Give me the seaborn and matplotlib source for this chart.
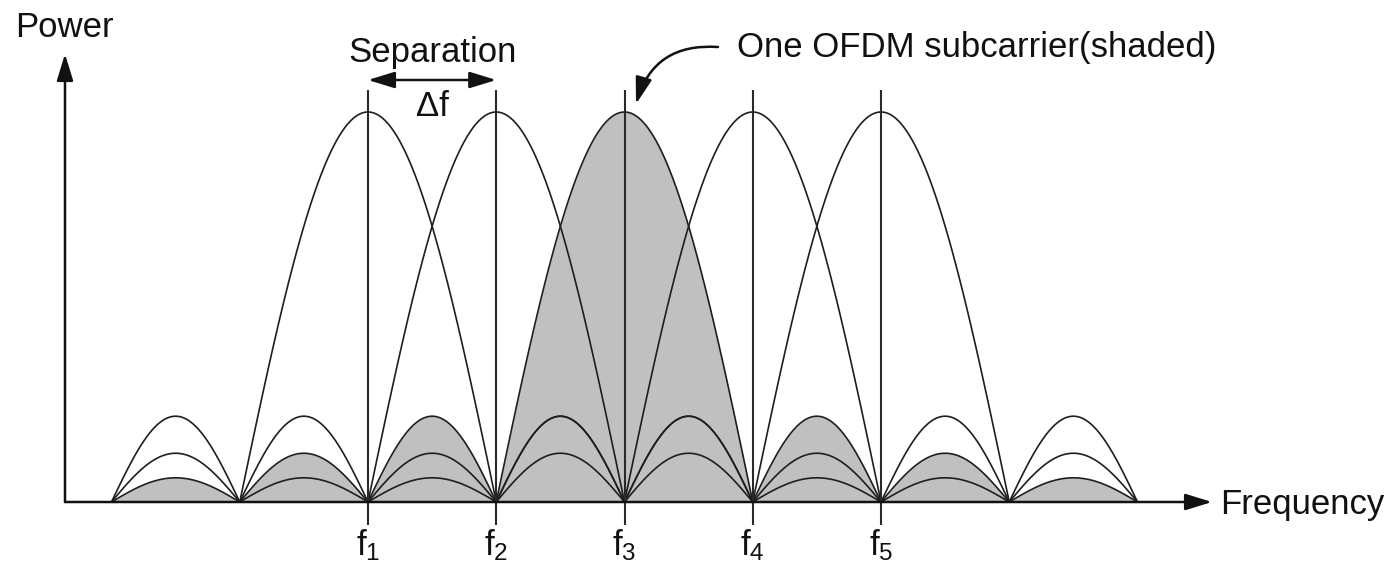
import numpy as np
import pandas as pd
import matplotlib
matplotlib.use("Agg")
import matplotlib.pyplot as plt
import seaborn as sns

# subcarrier centres, in units of the spacing delta f
carriers = ["1", "2", "3", "4", "5"]
centres = [1, 2, 3, 4, 5]
main_peak = 1.0
sidelobe_heights = [0.22, 0.125, 0.062]   # 1st, 2nd, 3rd sidelobe
band = (-1, 7)                            # outermost zeros of the spectrum
shaded = "3"

sns.set_theme(style="white")
plt.rcParams["font.family"] = ["Liberation Sans", "DejaVu Sans"]
plt.rcParams["mathtext.fontset"] = "custom"
plt.rcParams["mathtext.rm"] = "Liberation Sans"
plt.rcParams["mathtext.it"] = "Liberation Sans"

# pixel -> data helpers (axes fill the whole figure)
DF_PX, X0 = 128.25, 368 / 128.25 - 1
Y_PX, BASE = 390.0, 502


def px(x):
    return x / DF_PX - X0


def py(y):
    return (BASE - y) / Y_PX


# build every lobe of every subcarrier
rows = []
for name, c in zip(carriers, centres):
    x = np.linspace(c - 1, c + 1, 121)
    rows.append(pd.DataFrame({"x": x, "y": main_peak * np.cos(np.pi * (x - c) / 2),
                              "carrier": name, "lobe": f"{name}-main"}))
    for m, h in enumerate(sidelobe_heights, start=1):
        for side in (-1, 1):
            lo = min(c + side * m, c + side * (m + 1))
            if lo < band[0] or lo + 1 > band[1]:
                continue
            t = np.linspace(0, 1, 61)
            rows.append(pd.DataFrame({"x": lo + t, "y": h * np.sin(np.pi * t),
                                      "carrier": name, "lobe": f"{name}-{side * m}"}))
lobes = pd.concat(rows, ignore_index=True)

fig = plt.figure(figsize=(13.93, 5.76), dpi=100)
ax = fig.add_axes([0, 0, 1, 1])
ax.set_xlim(px(0), px(1393))
ax.set_ylim(py(576), py(0))
ax.axis("off")

# shaded subcarrier
sh = lobes[lobes.carrier == shaded].sort_values("x")
ax.fill_between(sh.x, 0, sh.y, color="#c0c0c0", lw=0, zorder=1)

sns.lineplot(data=lobes, x="x", y="y", units="lobe", estimator=None, sort=False,
             color="#1e1e1e", lw=1.2, ax=ax, zorder=3, legend=False)

ax.vlines(centres, py(525), py(90), color="#2a2a2a", lw=1.5, zorder=4)

arrow = dict(arrowstyle="-|>,head_length=0.65,head_width=0.2", color="#111",
             lw=1.8, mutation_scale=25, shrinkA=0, shrinkB=0)
# axes
ax.annotate("", xy=(px(1212), 0), xytext=(px(65), 0), arrowprops=arrow, zorder=5)
ax.annotate("", xy=(px(65), py(54)), xytext=(px(65), 0), arrowprops=arrow, zorder=5)

fs = 25
ax.text(px(15), py(37), "Power", fontsize=fs, va="baseline", ha="left", color="#111")
ax.text(px(1220), py(514), "Frequency", fontsize=fs, va="baseline", ha="left", color="#111")

for name, c in zip(carriers, centres):
    ax.text(c, py(555), f"f$_{{{name}}}$", fontsize=fs, ha="center", va="baseline",
            color="#111")

# separation between first two subcarriers
ax.annotate("", xy=(centres[1], py(80)), xytext=(centres[0], py(80)),
            arrowprops=dict(arrow, arrowstyle="<|-|>,head_length=0.65,head_width=0.2"))
mid = (centres[0] + centres[1]) / 2
ax.text(mid, py(62), "Separation", fontsize=fs, ha="center", va="baseline", color="#111")
ax.text(mid, py(116), "\u0394f", fontsize=fs, ha="center", va="baseline", color="#111")

# label for the shaded subcarrier
ax.text(px(737), py(57), "One OFDM subcarrier(shaded)", fontsize=fs, ha="left",
        va="baseline", color="#111")
ax.annotate("", xy=(px(636), py(104)), xytext=(px(718), py(47)),
            arrowprops=dict(arrow, connectionstyle="arc3,rad=0.4"))

fig.savefig("out.png", dpi=100, facecolor="white")
